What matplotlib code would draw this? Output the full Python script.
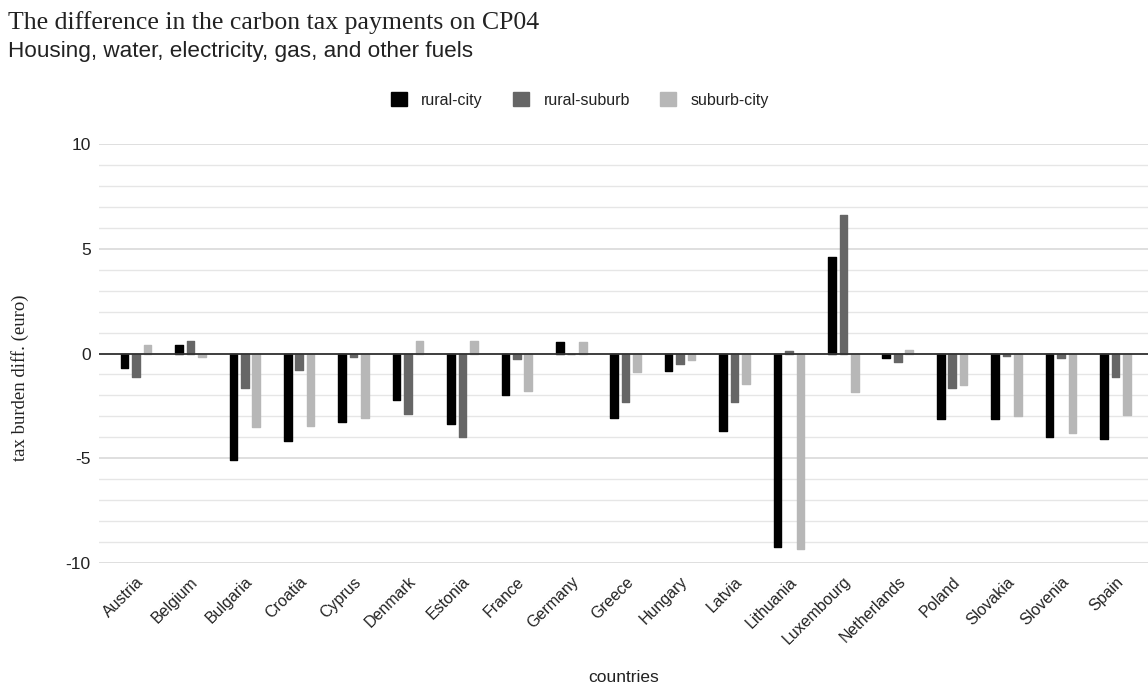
import numpy as np
import matplotlib.pyplot as plt
from matplotlib.patches import Patch

plt.rcParams['font.family'] = ['Liberation Sans', 'DejaVu Sans']

countries = ['Austria', 'Belgium', 'Bulgaria', 'Croatia', 'Cyprus', 'Denmark',
             'Estonia', 'France', 'Germany', 'Greece', 'Hungary', 'Latvia',
             'Lithuania', 'Luxembourg', 'Netherlands', 'Poland', 'Slovakia',
             'Slovenia', 'Spain']
rural_city = [-0.7, 0.4, -5.1, -4.2, -3.25, -2.2, -3.35, -2.0, 0.55, -3.1,
              -0.85, -3.7, -9.25, 4.6, -0.2, -3.15, -3.15, -4.0, -4.1]
rural_suburb = [-1.1, 0.62, -1.65, -0.8, -0.15, -2.9, -4.0, -0.25, 0.0, -2.3,
                -0.5, -2.3, 0.1, 6.6, -0.4, -1.65, -0.1, -0.2, -1.1]
suburb_city = [0.4, -0.15, -3.5, -3.45, -3.1, 0.62, 0.62, -1.78, 0.55, -0.86,
               -0.3, -1.45, -9.35, -1.85, 0.15, -1.5, -3.0, -3.8, -2.95]

series = [('rural-city', rural_city, '#000000'),
          ('rural-suburb', rural_suburb, '#666666'),
          ('suburb-city', suburb_city, '#b7b7b7')]

fig = plt.figure(figsize=(11.48, 6.88), dpi=100)
ax = fig.add_axes([99 / 1148, 1 - 563 / 688, 1 - 99 / 1148, (563 - 144) / 688])

x = np.arange(len(countries))
width = 0.14
step = 0.21
for i, (name, vals, color) in enumerate(series):
    ax.bar(x + (i - 1) * step, vals, width, color=color, edgecolor=color,
           linewidth=1.0, joinstyle='round', zorder=3, label=name)

ax.set_xlim(-0.68, 18.6)
ax.set_ylim(-10, 10)
ax.set_yticks([-10, -5, 0, 5, 10])
ax.set_yticks(np.arange(-10, 11, 1), minor=True)
ax.grid(axis='y', which='major', color='#d6d6d6', linewidth=1.1, zorder=0)
ax.grid(axis='y', which='minor', color='#e6e6e6', linewidth=1.0, zorder=0)
ax.axhline(0, color='#333333', linewidth=1.3, zorder=4)
for s in ax.spines.values():
    s.set_visible(False)

ax.tick_params(axis='y', which='both', length=0, pad=6, labelsize=12.5, labelcolor='#222222')
ax.set_yticklabels(['-10', '-5', '0', '5', '10'])
ax.set_xticks(x)
ax.set_xticklabels(countries, rotation=45, ha='right', rotation_mode='anchor',
                   fontsize=11.5, color='#222222')
ax.tick_params(axis='x', length=0, pad=8)

fig.text(20 / 1148, 1 - 378 / 688, 'tax burden diff. (euro)', family='Liberation Serif',
         fontsize=13.5, color='#222222', rotation=90, ha='center', va='center')
fig.text(624 / 1148, 1 - 678 / 688, 'countries', ha='center', va='center',
         fontsize=12.5, color='#222222')

fig.text(8 / 1148, 1 - 29 / 688, 'The difference in the carbon tax payments on CP04',
         family='Liberation Serif', fontsize=18.5, color='#222222', va='baseline')
fig.text(8 / 1148, 1 - 57 / 688, 'Housing, water, electricity, gas, and other fuels',
         fontsize=16.2, color='#222222', va='baseline')

handles = [Patch(facecolor=c, edgecolor=c, label=n) for n, _, c in series]
fig.legend(handles=handles, loc='center', bbox_to_anchor=(580 / 1148, 1 - 100 / 688),
           ncol=3, frameon=False, fontsize=11.5, handlelength=1.0, handleheight=1.0,
           handletextpad=0.9, columnspacing=1.9, labelcolor='#222222')

fig.savefig('out.png', dpi=100)
